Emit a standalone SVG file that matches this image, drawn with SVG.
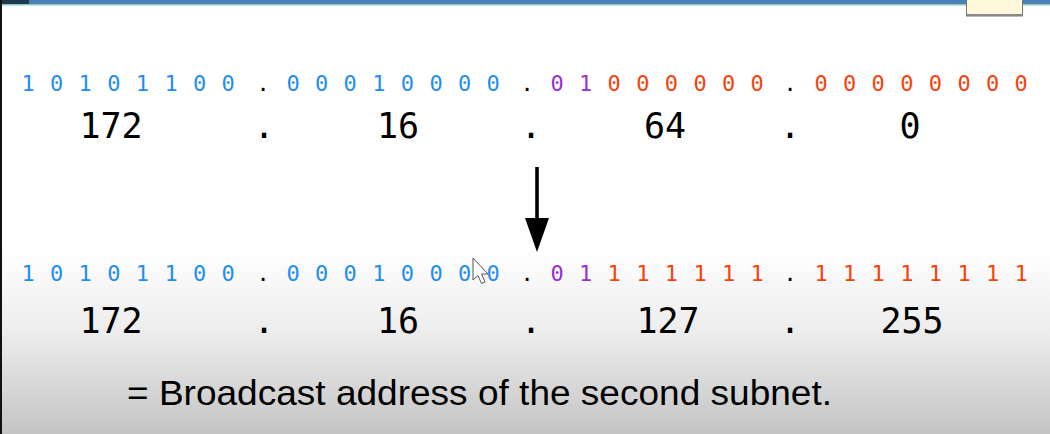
<svg xmlns="http://www.w3.org/2000/svg" width="1050" height="434" viewBox="0 0 1050 434">
  <defs>
    <linearGradient id="bg" x1="0" y1="0" x2="0" y2="1">
      <stop offset="0" stop-color="#ffffff"/>
      <stop offset="0.45" stop-color="#ececec"/>
      <stop offset="1" stop-color="#c4c4c4"/>
    </linearGradient>
    <style>
      .bin { font-family: "DejaVu Sans Mono", "Liberation Mono", monospace; font-size: 22px; text-anchor: middle; }
      .dec { font-family: "DejaVu Sans Mono", "Liberation Mono", monospace; font-size: 35px; text-anchor: middle; fill: #000; }
      .blue { fill: #1f8ef0; }
      .purple { fill: #9a2fcf; }
      .red { fill: #f6420a; }
      .dot { fill: #000; }
      .cap { font-family: "Liberation Sans", Arial, sans-serif; font-size: 35px; fill: #000; }
    </style>
  </defs>

  <!-- background -->
  <rect x="0" y="0" width="1050" height="434" fill="#ffffff"/>
  <rect x="0" y="250" width="1050" height="184" fill="url(#bg)"/>

  <!-- top bar -->
  <g id="topbar">
    <rect x="0" y="0" width="1050" height="4" fill="#4a81b5"/>
    <rect x="0" y="4" width="1050" height="1.5" fill="#8ccabf"/>
    <rect x="0" y="0" width="29" height="4" fill="#1d3a4e"/>
    <rect x="0" y="0" width="2" height="434" fill="#111"/>
    <rect x="966.5" y="-1" width="56" height="17" fill="#fff7dc" stroke="#777" stroke-width="1"/>
    <rect x="966.5" y="14" width="56" height="2" fill="#888"/>
  </g>

  <!-- row 1 binary -->
  <g id="row1-binary">
    <text class="bin blue" x="28 56.6 85.2 113.8 142.4 171 199.6 228.2" y="91">10101100</text>
    <text class="bin dot" x="263" y="91">.</text>
    <text class="bin blue" x="293 321.6 350.2 378.8 407.4 436 464.6 493.2" y="91">00010000</text>
    <text class="bin dot" x="527" y="91">.</text>
    <text class="bin purple" x="557 585.6" y="91">01</text>
    <text class="bin red" x="614.2 642.8 671.4 700 728.6 757.2" y="91">000000</text>
    <text class="bin dot" x="790" y="91">.</text>
    <text class="bin red" x="821 849.6 878.2 906.8 935.4 964 992.6 1021.2" y="91">00000000</text>
  </g>

  <!-- row 1 decimal -->
  <g id="row1-decimal">
    <text class="dec" x="111" y="138">172</text>
    <text class="dec" x="264" y="138">.</text>
    <text class="dec" x="398" y="138">16</text>
    <text class="dec" x="531" y="138">.</text>
    <text class="dec" x="665" y="138">64</text>
    <text class="dec" x="790" y="138">.</text>
    <text class="dec" x="910" y="138">0</text>
  </g>

  <!-- connector -->
  <g id="connectors">
    <line x1="537" y1="167" x2="537" y2="222" stroke="#000" stroke-width="3.6"/>
    <polygon points="525,218 549,218 537,252" fill="#000"/>
  </g>

  <!-- row 2 binary -->
  <g id="row2-binary">
    <text class="bin blue" x="28 56.6 85.2 113.8 142.4 171 199.6 228.2" y="281">10101100</text>
    <text class="bin dot" x="263" y="281">.</text>
    <text class="bin blue" x="293 321.6 350.2 378.8 407.4 436 464.6 493.2" y="281">00010000</text>
    <text class="bin dot" x="527" y="281">.</text>
    <text class="bin purple" x="557 585.6" y="281">01</text>
    <text class="bin red" x="614.2 642.8 671.4 700 728.6 757.2" y="281">111111</text>
    <text class="bin dot" x="790" y="281">.</text>
    <text class="bin red" x="821 849.6 878.2 906.8 935.4 964 992.6 1021.2" y="281">11111111</text>
  </g>

  <!-- mouse pointer -->
  <g id="pointer">
    <path d="M473,258 L473,280 L478,275.5 L481.5,283.5 L485,282 L481.5,274 L488,274 Z" fill="#ffffff" stroke="#555" stroke-width="1"/>
  </g>

  <!-- row 2 decimal -->
  <g id="row2-decimal">
    <text class="dec" x="111" y="333">172</text>
    <text class="dec" x="264" y="333">.</text>
    <text class="dec" x="398" y="333">16</text>
    <text class="dec" x="531" y="333">.</text>
    <text class="dec" x="668" y="333">127</text>
    <text class="dec" x="790" y="333">.</text>
    <text class="dec" x="912" y="333">255</text>
  </g>

  <!-- caption -->
  <g id="caption">
    <text class="cap" x="127" y="405" textLength="705" lengthAdjust="spacingAndGlyphs">= Broadcast address of the second subnet.</text>
  </g>
</svg>
